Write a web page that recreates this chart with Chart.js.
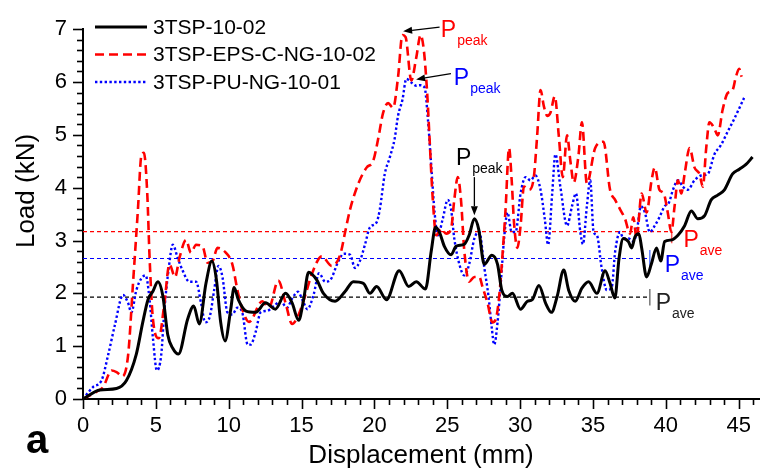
<!DOCTYPE html>
<html>
<head>
<meta charset="utf-8">
<script src="https://cdn.jsdelivr.net/npm/chart.js@4.4.0/dist/chart.umd.min.js"></script>
<style>
  html, body { margin: 0; padding: 0; background: #fff; }
</style>
</head>
<body>
<canvas id="chart" width="765" height="475"></canvas>
<script>
const FONT = '"Liberation Sans", Arial, sans-serif';

const seriesLabels = ['3TSP-10-02', '3TSP-EPS-C-NG-10-02', '3TSP-PU-NG-10-01'];

// 3TSP-10-02 (black, solid)
const blackDisp = [0, 1.16, 2.3, 2.98, 3.66, 4.1, 4.46, 4.8, 5.14, 5.48, 5.82, 6.16, 6.55, 7.18, 7.6, 7.98, 8.44, 8.84, 9.16, 9.45, 9.75, 10.14, 10.37, 10.66, 11.16, 11.85, 12.53, 13.2, 13.9, 14.35, 14.8, 15.14, 15.48, 16.05, 16.5, 17.3, 18.0, 18.55, 19.24, 19.7, 20.15, 20.83, 21.7, 22.35, 22.87, 23.5, 23.9, 24.19, 24.46, 24.8, 25.26, 25.6, 26.17, 26.5, 26.86, 27.15, 27.54, 28.06, 28.45, 28.74, 29.13, 29.47, 30.03, 30.5, 30.83, 31.29, 31.74, 32.15, 32.54, 32.99, 33.33, 33.78, 34.24, 34.7, 35.27, 35.83, 36.17, 36.5, 36.79, 37.08, 37.43, 37.65, 37.88, 38.15, 38.34, 38.68, 39.0, 39.36, 39.65, 39.92, 40.38, 40.83, 41.29, 41.75, 42.2, 42.66, 43.11, 43.56, 44.02, 44.58, 45.04, 45.5, 45.95];
const blackLoad = [0, 0.17, 0.2, 0.35, 0.85, 1.45, 1.88, 2.04, 2.22, 1.95, 1.21, 0.96, 0.85, 1.51, 1.76, 1.42, 2.19, 2.61, 2.25, 1.45, 1.1, 1.7, 2.11, 1.88, 1.67, 1.64, 1.82, 1.7, 2.0, 1.82, 1.49, 1.88, 2.4, 2.25, 2.0, 1.85, 2.04, 2.22, 2.19, 2.0, 2.13, 1.88, 2.43, 2.13, 2.22, 2.08, 2.8, 3.25, 3.16, 2.89, 2.73, 2.89, 2.93, 3.1, 3.41, 3.22, 2.55, 2.72, 2.55, 2.06, 1.94, 2.0, 1.7, 1.85, 1.88, 2.15, 1.82, 1.64, 1.94, 2.44, 2.06, 1.85, 2.1, 2.22, 2.0, 2.43, 2.19, 1.91, 2.67, 3.04, 2.98, 2.86, 3.07, 3.13, 2.86, 2.31, 2.55, 2.86, 2.61, 2.98, 3.01, 3.1, 3.28, 3.56, 3.41, 3.47, 3.77, 3.86, 3.96, 4.26, 4.35, 4.44, 4.58];

// 3TSP-EPS-C-NG-10-02 (red, dashed)
const redDisp = [0, 0.93, 1.39, 1.96, 2.3, 2.71, 3.1, 3.43, 3.77, 4.0, 4.18, 4.41, 4.57, 4.8, 5.2, 5.59, 5.93, 6.32, 6.62, 7.07, 7.41, 7.76, 8.2, 8.55, 8.89, 9.23, 9.8, 10.25, 10.6, 10.93, 11.4, 12.3, 12.76, 13.4, 13.9, 14.35, 14.8, 15.26, 15.71, 16.39, 17.07, 17.65, 17.99, 18.33, 18.9, 19.46, 19.92, 20.26, 20.6, 20.94, 21.28, 21.62, 21.92, 22.14, 22.53, 22.87, 23.17, 23.4, 23.62, 23.78, 24.0, 24.24, 24.58, 24.92, 25.26, 25.48, 25.72, 25.94, 26.17, 26.5, 26.86, 27.2, 27.42, 27.76, 28.1, 28.33, 28.56, 28.79, 29.0, 29.24, 29.42, 29.58, 29.81, 30.03, 30.26, 30.6, 30.94, 31.17, 31.4, 31.63, 31.86, 32.08, 32.38, 32.65, 32.93, 33.22, 33.45, 33.68, 34.0, 34.24, 34.58, 35.15, 35.72, 36.17, 36.52, 36.86, 37.2, 37.54, 37.77, 37.99, 38.34, 38.68, 39.02, 39.24, 39.56, 39.86, 40.13, 40.38, 40.6, 40.83, 41.06, 41.29, 41.63, 41.97, 42.31, 42.54, 42.77, 42.99, 43.33, 43.56, 43.9, 44.24, 44.58, 44.8, 45.03, 45.2];
const redLoad = [0, 0.14, 0.23, 0.54, 0.51, 0.43, 0.84, 2.18, 3.59, 4.6, 4.66, 3.89, 2.67, 1.51, 1.15, 1.82, 2.55, 2.31, 2.67, 3.01, 2.77, 2.92, 2.89, 2.58, 2.61, 2.86, 2.77, 2.55, 2.06, 1.7, 1.46, 1.85, 1.73, 2.24, 1.82, 1.42, 1.6, 1.97, 2.37, 2.7, 2.52, 2.73, 3.16, 3.59, 4.08, 4.38, 4.51, 4.93, 5.42, 5.6, 5.51, 6.09, 6.89, 6.85, 6.03, 6.46, 6.89, 6.58, 5.79, 4.95, 3.8, 3.1, 3.22, 3.13, 3.22, 3.77, 4.2, 3.77, 2.8, 2.22, 2.31, 2.31, 2.12, 1.82, 1.45, 1.51, 1.94, 2.73, 3.59, 4.75, 4.14, 3.34, 2.86, 3.28, 4.02, 3.96, 4.2, 4.99, 5.85, 5.54, 5.36, 5.42, 5.73, 4.99, 4.2, 4.99, 4.5, 4.1, 4.6, 5.24, 4.08, 4.75, 4.87, 3.96, 3.77, 3.59, 3.41, 3.13, 3.44, 3.04, 3.89, 3.53, 4.14, 4.38, 3.96, 3.89, 3.53, 3.16, 3.65, 4.14, 3.89, 4.26, 4.75, 4.38, 4.26, 4.02, 4.75, 5.24, 5.12, 4.99, 5.48, 5.79, 5.85, 6.09, 6.25, 6.1];

// 3TSP-PU-NG-10-01 (blue, dotted)
const blueDisp = [0, 0.7, 1.27, 1.73, 2.18, 2.75, 3.09, 3.32, 3.66, 4.0, 4.3, 4.57, 4.8, 5.07, 5.37, 5.59, 5.89, 6.16, 6.5, 6.84, 7.3, 7.76, 8.1, 8.39, 8.71, 9.0, 9.3, 9.57, 9.91, 10.25, 10.6, 10.93, 11.3, 11.5, 11.85, 12.19, 12.64, 13.1, 13.55, 14.0, 14.35, 14.75, 15.1, 15.4, 15.82, 16.2, 16.62, 16.96, 17.53, 17.9, 18.33, 18.67, 19.0, 19.35, 19.69, 20.14, 20.37, 20.71, 21.05, 21.39, 21.62, 21.92, 22.19, 22.53, 22.87, 23.1, 23.44, 23.67, 23.9, 24.13, 24.35, 24.69, 25.03, 25.26, 25.48, 25.83, 26.17, 26.5, 26.86, 27.2, 27.54, 27.83, 28.06, 28.22, 28.45, 28.67, 28.9, 29.13, 29.42, 29.69, 30.03, 30.37, 30.71, 31.05, 31.4, 31.69, 31.92, 32.2, 32.42, 32.76, 33.22, 33.56, 33.83, 34.13, 34.31, 34.58, 34.81, 35.04, 35.27, 35.59, 35.95, 36.29, 36.52, 36.86, 37.08, 37.43, 37.77, 38.0, 38.29, 38.56, 38.9, 39.24, 39.56, 39.92, 40.2, 40.49, 40.83, 41.17, 41.5, 41.97, 42.43, 42.88, 43.33, 43.79, 44.24, 44.69, 45.1, 45.37];
const blueLoad = [0, 0.23, 0.35, 0.84, 1.39, 1.97, 1.82, 1.64, 2.06, 2.28, 2.34, 1.88, 1.15, 0.54, 0.84, 1.7, 2.49, 2.92, 2.67, 2.43, 2.22, 2.22, 1.82, 1.45, 1.57, 2.06, 2.52, 2.31, 1.64, 1.6, 1.73, 1.64, 1.03, 1.03, 1.27, 1.64, 1.67, 1.76, 1.85, 1.73, 1.9, 2.03, 1.85, 1.7, 1.97, 2.38, 2.22, 2.25, 2.61, 2.75, 2.73, 2.48, 2.61, 2.92, 3.25, 3.34, 3.59, 4.26, 4.57, 4.93, 5.36, 5.66, 6.06, 5.99, 5.93, 5.94, 5.9, 5.3, 4.41, 3.53, 3.1, 3.41, 3.77, 3.59, 3.04, 2.55, 2.34, 2.55, 3.04, 3.16, 2.49, 1.94, 1.33, 1.03, 1.45, 2.19, 3.04, 3.53, 3.16, 3.16, 3.89, 4.2, 4.14, 4.23, 3.96, 3.41, 2.92, 3.89, 4.63, 4.02, 3.28, 3.65, 3.89, 3.16, 2.93, 3.65, 4.14, 3.16, 3.1, 2.49, 2.06, 2.12, 2.79, 3.16, 3.04, 3.04, 2.98, 3.16, 3.65, 3.53, 3.16, 3.28, 3.44, 3.65, 3.71, 3.96, 4.14, 4.02, 3.96, 4.14, 4.23, 4.26, 4.63, 4.81, 5.06, 5.3, 5.54, 5.7];

// average loads (black, red, blue) and where their guide lines stop
const aveLoad = [1.93, 3.17, 2.66];
const aveEnd = [38.9, 40.4, 38.9];
const aveBarLow = [1.77, 2.95, 2.5];
const aveBarHigh = [2.08, 3.19, 2.82];

const lineColors = ['#000000', '#ff0000', '#0000ff'];
const barColors = ['#777777', '#ff5a5a', '#5a7dff'];

function toPoints(xs, ys) {
    return xs.map((x, i) => ({ x: x, y: ys[i] }));
}

// annotation text, anchored in data units (x = left of "P", y = baseline)
const annotations = [
    { x: 24.56, y: 6.85, sub: 'peak', color: '#ff0000' },
    { x: 25.45, y: 5.94, sub: 'peak', color: '#0000ff' },
    { x: 25.59, y: 4.43, sub: 'peak', color: '#000000' },
    { x: 41.21, y: 2.88, sub: 'ave', color: '#ff0000' },
    { x: 39.92, y: 2.40, sub: 'ave', color: '#0000ff' },
    { x: 39.30, y: 1.69, sub: 'ave', color: '#222222' }
];
const arrows = [
    { x1: 24.47, y1: 7.04, x2: 21.97, y2: 6.96 },
    { x1: 25.25, y1: 6.16, x2: 22.86, y2: 6.05 },
    { x1: 26.86, y1: 4.20, x2: 26.86, y2: 3.48 }
];

window.addEventListener('load', () => {
    buildLoadChart();
});

function buildLoadChart() {
    const ctx = document.getElementById('chart').getContext('2d');

    const datasets = [
        {
            label: seriesLabels[0],
            data: toPoints(blackDisp, blackLoad),
            borderColor: lineColors[0],
            borderWidth: 3,
            pointRadius: 0,
            cubicInterpolationMode: 'monotone'
        },
        {
            label: seriesLabels[1],
            data: toPoints(redDisp, redLoad),
            borderColor: lineColors[1],
            borderWidth: 2.6,
            borderDash: [9, 5],
            pointRadius: 0,
            cubicInterpolationMode: 'monotone'
        },
        {
            label: seriesLabels[2],
            data: toPoints(blueDisp, blueLoad),
            borderColor: lineColors[2],
            borderWidth: 2.4,
            borderDash: [2.4, 2.4],
            pointRadius: 0,
            cubicInterpolationMode: 'monotone'
        }
    ];

    // average guide lines and their end bars
    aveLoad.forEach((v, i) => {
        datasets.push({
            label: 'ave' + i,
            data: [{ x: 0, y: v }, { x: aveEnd[i], y: v }],
            borderColor: lineColors[i],
            borderWidth: 1.2,
            borderDash: [4, 3],
            pointRadius: 0
        });
        datasets.push({
            label: 'bar' + i,
            data: [{ x: aveEnd[i], y: aveBarLow[i] }, { x: aveEnd[i], y: aveBarHigh[i] }],
            borderColor: barColors[i],
            borderWidth: 1.5,
            pointRadius: 0
        });
    });

    const decorations = {
        id: 'decorations',
        afterDraw(chart) {
            const c = chart.ctx;
            const xs = chart.scales.x;
            const ys = chart.scales.y;
            const area = chart.chartArea;

            c.save();
            // outward ticks
            c.strokeStyle = '#000';
            c.lineWidth = 1.6;
            for (let v = 0; v <= 46; v++) {
                const px = Math.round(xs.getPixelForValue(v)) + 0.5;
                const len = v % 5 === 0 ? 10 : 6;
                c.beginPath();
                c.moveTo(px, area.bottom);
                c.lineTo(px, area.bottom + len);
                c.stroke();
            }
            for (let k = 0; k <= 35; k++) {
                const py = Math.round(ys.getPixelForValue(k / 5)) + 0.5;
                const len = k % 5 === 0 ? 10 : 6;
                c.beginPath();
                c.moveTo(area.left - len, py);
                c.lineTo(area.left, py);
                c.stroke();
            }

            // legend
            c.font = '21px ' + FONT;
            c.textBaseline = 'middle';
            c.textAlign = 'left';
            [0, 1, 2].forEach(i => {
                const ds = chart.data.datasets[i];
                const y = 27 + i * 27.5;
                c.strokeStyle = ds.borderColor;
                c.lineWidth = ds.borderWidth;
                c.setLineDash(ds.borderDash || []);
                c.beginPath();
                c.moveTo(95, y);
                c.lineTo(147, y);
                c.stroke();
                c.setLineDash([]);
                c.fillStyle = '#000';
                c.fillText(ds.label, 153, y + 1);
            });

            // arrows
            c.strokeStyle = '#000';
            c.fillStyle = '#000';
            c.lineWidth = 1.3;
            arrows.forEach(a => {
                const x1 = xs.getPixelForValue(a.x1), y1 = ys.getPixelForValue(a.y1);
                const x2 = xs.getPixelForValue(a.x2), y2 = ys.getPixelForValue(a.y2);
                const ang = Math.atan2(y2 - y1, x2 - x1);
                const hx = x2 - 9 * Math.cos(ang), hy = y2 - 9 * Math.sin(ang);
                c.beginPath();
                c.moveTo(x1, y1);
                c.lineTo(hx, hy);
                c.stroke();
                c.beginPath();
                c.moveTo(x2, y2);
                c.lineTo(hx - 3.5 * Math.sin(ang), hy + 3.5 * Math.cos(ang));
                c.lineTo(hx + 3.5 * Math.sin(ang), hy - 3.5 * Math.cos(ang));
                c.closePath();
                c.fill();
            });

            // P labels
            c.textBaseline = 'alphabetic';
            annotations.forEach(a => {
                const px = xs.getPixelForValue(a.x);
                const py = ys.getPixelForValue(a.y);
                c.fillStyle = a.color;
                c.font = '23px ' + FONT;
                c.fillText('P', px, py);
                const w = c.measureText('P').width;
                c.font = '14px ' + FONT;
                c.fillText(a.sub, px + w + 1, py + 8);
            });

            // y axis title
            c.fillStyle = '#000';
            c.font = '26px ' + FONT;
            c.textAlign = 'center';
            c.textBaseline = 'middle';
            c.translate(27, 191);
            c.rotate(-Math.PI / 2);
            c.fillText('Load (kN)', 0, 0);
            c.restore();

            // panel letter
            c.save();
            c.fillStyle = '#000';
            c.font = 'bold 40px ' + FONT;
            c.textAlign = 'left';
            c.textBaseline = 'alphabetic';
            c.fillText('a', 26, 453);
            c.restore();
        }
    };

    new Chart(ctx, {
        type: 'line',
        data: { datasets: datasets },
        options: {
            responsive: false,
            animation: false,
            layout: { padding: { top: 17, right: 2, left: 0, bottom: 0 } },
            plugins: {
                legend: { display: false },
                tooltip: { enabled: false }
            },
            scales: {
                x: {
                    type: 'linear',
                    min: 0,
                    max: 46.4,
                    grid: { display: false, drawTicks: false },
                    border: { display: true, color: '#000', width: 2 },
                    ticks: {
                        stepSize: 5,
                        includeBounds: false,
                        padding: 14,
                        color: '#000',
                        maxRotation: 0,
                        font: { family: FONT, size: 22 }
                    },
                    title: {
                        display: true,
                        text: 'Displacement (mm)',
                        color: '#000',
                        font: { family: FONT, size: 26 },
                        padding: { top: 0, bottom: 4 }
                    },
                    afterFit: s => { s.height = 76; }
                },
                y: {
                    min: 0,
                    max: 7,
                    grid: { display: false, drawTicks: false },
                    border: { display: true, color: '#000', width: 2 },
                    ticks: {
                        stepSize: 1,
                        padding: 16,
                        color: '#000',
                        font: { family: FONT, size: 22 }
                    },
                    afterFit: s => { s.width = 83; }
                }
            }
        },
        plugins: [decorations]
    });
}
</script>
</body>
</html>
